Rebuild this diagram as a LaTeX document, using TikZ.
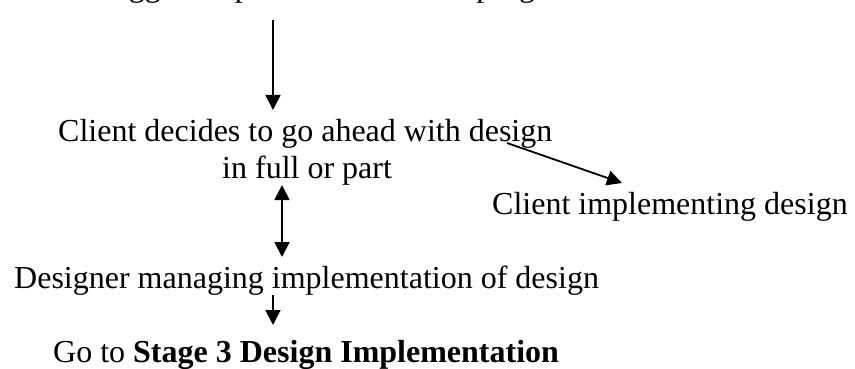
\documentclass[tikz,border=0pt]{standalone}
\usepackage{fontspec}
\setmainfont{Liberation Serif}
\usetikzlibrary{arrows.meta}
\begin{document}
\begin{tikzpicture}[x=1pt,y=-1pt,
  txt/.style={inner sep=0pt, anchor=base west, font=\fontsize{32}{36}\selectfont},
  arr/.style={line width=1.8pt, -{Triangle[length=15pt,width=15pt]}},
  darr/.style={line width=1.8pt, {Triangle[length=15pt,width=15pt]}-{Triangle[length=15pt,width=15pt]}}]
\useasboundingbox (0,0) rectangle (855,369);
\clip (0,0) rectangle (855,369);
\node[txt] (sug) at (95,-3) {Suggested plan for the whole programme};
\node[txt] (dec1) at (58,142) {Client decides to go ahead with design};
\node[txt] (dec2) at (222,178) {in full or part};
\node[txt] (cli) at (492,214) {Client implementing design};
\node[txt] (man) at (14,288) {Designer managing implementation of design};
\node[txt] (go) at (53,362) {Go to \textbf{Stage 3 Design Implementation}};
\coordinate (a1s) at (273,20);
\coordinate (a1e) at (273,110);
\coordinate (a2s) at (507,143);
\coordinate (a2e) at (622,183);
\coordinate (a3s) at (282,185);
\coordinate (a3e) at (282,257);
\coordinate (a4s) at (273,295);
\coordinate (a4e) at (273,325);
\draw[arr] (a1s) -- (a1e);
\draw[arr] (a2s) -- (a2e);
\draw[darr] (a3s) -- (a3e);
\draw[arr] (a4s) -- (a4e);
\end{tikzpicture}
\end{document}
